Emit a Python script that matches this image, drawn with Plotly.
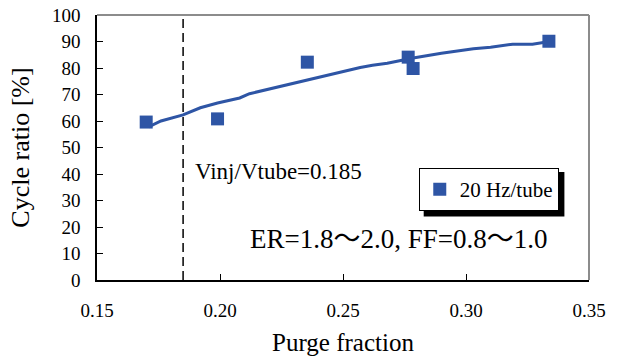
import plotly.graph_objects as go

# Measured points: purge fraction vs. cycle ratio
purge_fraction = [0.170, 0.199, 0.2355, 0.2765, 0.2785, 0.3337]
cycle_ratio = [59.6, 60.8, 82.2, 84.1, 79.8, 90.1]

# Trend curve through the measurements
trend_x = [0.171, 0.176, 0.185, 0.192, 0.199, 0.208, 0.212, 0.222, 0.232,
           0.240, 0.248, 0.257, 0.262, 0.268, 0.2785, 0.283, 0.290, 0.303,
           0.310, 0.319, 0.327, 0.334]
trend_y = [57.8, 60.0, 62.3, 65.0, 66.8, 68.7, 70.3, 72.5, 74.8,
           76.5, 78.3, 80.2, 81.0, 81.8, 83.8, 84.5, 85.6, 87.3,
           87.8, 89.0, 89.0, 90.0]

VINJ_RATIO = 0.185
x_ticks = [0.15, 0.20, 0.25, 0.30, 0.35]
y_ticks = list(range(0, 101, 10))

BLUE = "#2E55A5"
FONT = "Liberation Serif, Times New Roman, Noto Sans CJK JP"

fig = go.Figure()
fig.add_trace(go.Scatter(
    x=trend_x, y=trend_y, mode="lines",
    line=dict(color=BLUE, width=3), showlegend=False, hoverinfo="skip"))
fig.add_trace(go.Scatter(
    x=purge_fraction, y=cycle_ratio, mode="markers", name="20 Hz/tube",
    marker=dict(symbol="square", size=13, color=BLUE)))

# Reference line at Vinj/Vtube
fig.add_shape(type="line", xref="x", yref="y", x0=VINJ_RATIO, x1=VINJ_RATIO,
              y0=0, y1=100, line=dict(color="black", width=1.5, dash="9px,5px"))
# Grey frame on top and right
fig.add_shape(type="line", xref="paper", yref="paper", x0=0, x1=1, y0=1, y1=1,
              line=dict(color="#8c8c8c", width=2))
fig.add_shape(type="line", xref="paper", yref="paper", x0=1, x1=1, y0=0, y1=1,
              line=dict(color="#8c8c8c", width=2))
# Legend drop shadow
fig.add_shape(type="rect", xref="paper", yref="paper",
              x0=0.664, x1=0.950, y0=0.240, y1=0.408,
              line=dict(width=0), fillcolor="black", layer="below")

fig.add_annotation(x=0.189, y=40.8, xref="x", yref="y", xanchor="left",
                   text=f"Vinj/Vtube={VINJ_RATIO}", showarrow=False,
                   font=dict(family=FONT, size=23, color="black"))
fig.add_annotation(x=0.2115, y=15.3, xref="x", yref="y", xanchor="left",
                   text="ER=1.8〜2.0, FF=0.8〜1.0", showarrow=False,
                   font=dict(family=FONT, size=27, color="black"))

fig.update_layout(
    width=617, height=356,
    margin=dict(l=97, r=28, t=15, b=76),
    paper_bgcolor="white", plot_bgcolor="white",
    font=dict(family=FONT, color="black"),
    legend=dict(x=0.654, y=0.4226, xanchor="left", yanchor="top",
                bgcolor="white", bordercolor="black", borderwidth=1,
                font=dict(family=FONT, size=21), itemwidth=30),
    xaxis=dict(range=[0.15, 0.35], tickvals=x_ticks,
               ticktext=[f"{v:.2f}" for v in x_ticks],
               ticks="inside", ticklen=6, tickcolor="black",
               showline=True, linecolor="black", linewidth=1.5,
               showgrid=False, zeroline=False, automargin=False,
               tickfont=dict(family=FONT, size=19), ticklabelstandoff=12,
               title=dict(text="Purge fraction", font=dict(family=FONT, size=25))),
    yaxis=dict(range=[0, 100], tickvals=y_ticks,
               ticks="inside", ticklen=6, tickcolor="black",
               showline=True, linecolor="black", linewidth=1.5,
               showgrid=False, zeroline=False, automargin=False,
               tickfont=dict(family=FONT, size=19), ticklabelstandoff=11,
               title=dict(text="Cycle ratio [%]", font=dict(family=FONT, size=26))),
)

fig.write_html("out.html")
